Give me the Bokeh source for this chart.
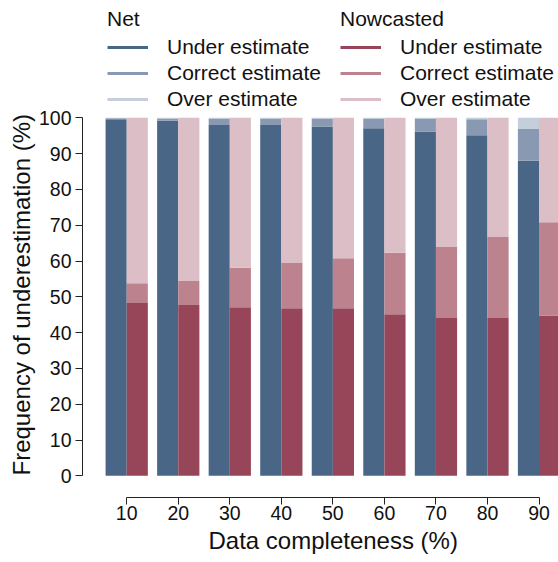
import math
from bokeh.plotting import figure
from bokeh.models import (ColumnDataSource, FixedTicker, Legend, LegendItem, Range1d, Title)
from bokeh.transform import dodge
from bokeh.embed import file_html
from bokeh.resources import INLINE

completeness = [10, 20, 30, 40, 50, 60, 70, 80, 90]
tick_labels = ["10", "20", "30", "40", "50", "60", "70", "80", "90"]

net_under = [99.6, 99.2, 98.0, 98.0, 97.6, 97.1, 96.2, 95.1, 88.0]
net_correct = [0.3, 0.6, 1.8, 1.8, 2.2, 2.7, 3.6, 4.5, 8.9]
net_over = [0.1, 0.2, 0.2, 0.2, 0.2, 0.2, 0.2, 0.4, 3.1]

now_under = [48.3, 47.7, 47.1, 46.8, 46.8, 45.1, 44.1, 44.1, 44.8]
now_correct = [5.5, 6.7, 11.0, 12.8, 14.0, 17.2, 19.8, 22.6, 26.0]
now_over = [46.2, 45.6, 41.9, 40.4, 39.2, 37.7, 36.1, 33.3, 29.2]

net_colors = ["#4a6686", "#8899b1", "#c4cfdb"]
now_colors = ["#974558", "#bc838e", "#dcbec6"]
labels = ["Under estimate", "Correct estimate", "Over estimate"]
x_title = "Data completeness (%)"
y_title = "Frequency of underestimation (%)"

FONT = "Liberation Sans"
TXT = "#111111"

src = ColumnDataSource(dict(
    x=completeness,
    net_under=net_under, net_correct=net_correct, net_over=net_over,
    now_under=now_under, now_correct=now_correct, now_over=now_over,
))

p = figure(width=558, height=562, output_backend="svg", toolbar_location=None,
           x_range=Range1d(1.42, 93.78), y_range=Range1d(-6.06, 132.77),
           min_border_left=82, min_border_right=0, min_border_top=0, min_border_bottom=65)
p.outline_line_color = None
p.grid.visible = False

bw = 4.1
p.vbar_stack(["net_under", "net_correct", "net_over"], x=dodge("x", -bw / 2, range=p.x_range),
             width=bw, color=net_colors, source=src, line_width=0)
p.vbar_stack(["now_under", "now_correct", "now_over"], x=dodge("x", bw / 2, range=p.x_range),
             width=bw, color=now_colors, source=src, line_width=0)

# axes
xa = p.xaxis[0]
xa.ticker = FixedTicker(ticks=completeness)
xa.major_label_overrides = {c: t for c, t in zip(completeness, tick_labels)}
xa.bounds = (completeness[0], completeness[-1])
xa.major_label_text_font = FONT
xa.major_label_text_font_size = "19.5px"
xa.major_label_standoff = 1
xa.major_tick_out = 7
xa.major_tick_in = 0
xa.minor_tick_out = 0
xa.minor_tick_in = 0
xa.axis_line_color = "#222222"
xa.major_tick_line_color = "#222222"
xa.major_label_text_color = TXT

ya = p.yaxis[0]
ya.ticker = FixedTicker(ticks=[0, 10, 20, 30, 40, 50, 60, 70, 80, 90, 100])
ya.bounds = (0, 100)
ya.major_label_text_font = FONT
ya.major_label_text_font_size = "19.5px"
ya.major_label_standoff = 4
ya.major_tick_out = 7
ya.major_tick_in = 0
ya.minor_tick_out = 0
ya.minor_tick_in = 0
ya.axis_line_color = "#222222"
ya.major_tick_line_color = "#222222"
ya.major_label_text_color = TXT

# axis titles, placed along the axis bounds as in the original
p.add_layout(Title(text=x_title, align="left", offset=126, standoff=5,
                   text_font=FONT, text_font_size="24px", text_font_style="normal",
                   text_color=TXT), "below")
p.add_layout(Title(text=y_title, align="left", offset=22, standoff=1,
                   text_font=FONT, text_font_size="24px", text_font_style="normal",
                   text_color=TXT), "left")

# legends
def make_legend(title, colors, loc):
    items = []
    for lab, c in zip(labels, colors):
        r = p.line(x=[math.nan], y=[math.nan], line_color=c, line_width=3)
        items.append(LegendItem(label=lab, renderers=[r]))
    lg = Legend(items=items, title=title, location=loc,
                title_text_font=FONT, title_text_font_size="21px", title_text_font_style="normal",
                title_text_color=TXT, title_standoff=4,
                label_text_font=FONT, label_text_font_size="21px", label_text_color=TXT,
                glyph_width=41, glyph_height=20, label_height=20, label_standoff=19,
                spacing=2, padding=0, margin=0, border_line_color=None,
                background_fill_alpha=0)
    p.add_layout(lg, "center")

make_legend("Net", net_colors, (25, 386))
make_legend("Nowcasted", now_colors, (258, 386))

open("out.html", "w").write(file_html(p, INLINE))
